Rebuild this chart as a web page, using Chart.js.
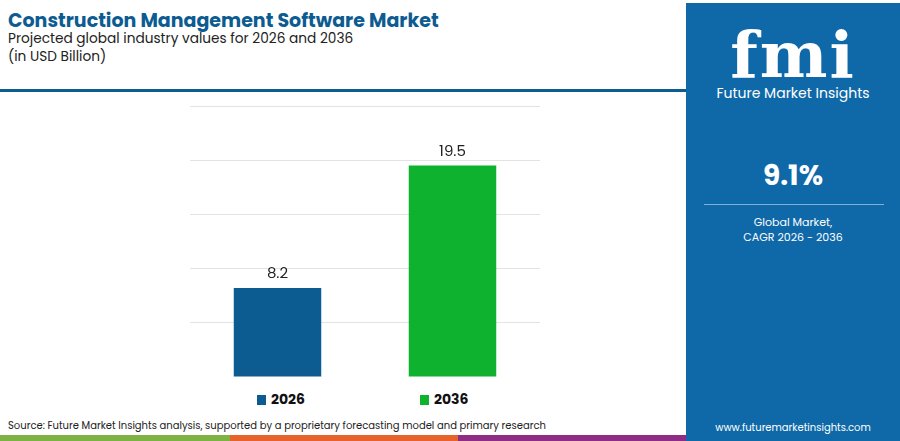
<!DOCTYPE html>
<html>
<head>
<meta charset="utf-8">
<script src="https://cdn.jsdelivr.net/npm/chart.js@4.4.0/dist/chart.umd.min.js"></script>
<style>
  body { margin:0; width:900px; height:441px; position:relative; background:#fff; font-family:Poppins,"Noto Sans",sans-serif; overflow:hidden; }
  #title { position:absolute; left:8px; top:6px; font-size:19px; font-weight:700; color:#0d5c91; }
  #sub { position:absolute; left:8px; top:30px; font-size:13.7px; color:#222; line-height:18px; }
  #rule { position:absolute; left:0; top:89px; width:686px; height:3px; background:#0d5c91; }
  #box { position:absolute; left:190px; top:106px; width:350px; height:271px; }
  #legend { position:absolute; top:389px; left:0; width:686px; font-size:14px; font-weight:700; color:#111; }
  #legend span { position:absolute; }
  #legend i { display:inline-block; width:9px; height:10px; margin-right:5px; vertical-align:-1px; }
  #src { position:absolute; left:8px; top:418px; font-size:10px; color:#222; }
  .strip { position:absolute; top:435px; height:6px; }
  #panel { position:absolute; left:686px; top:3px; width:214px; height:438px; background:#0f69a8; color:#fff; text-align:center; }
  #fmi { position:absolute; left:0; width:214px; top:14px; font-family:"DejaVu Serif",serif; font-size:64px; font-weight:700; letter-spacing:2px; }
  #fmiName { position:absolute; left:0; width:214px; top:80px; font-size:14px; }
  #cagr { position:absolute; left:0; width:214px; top:152px; font-size:28px; font-weight:700; }
  #line { position:absolute; left:18px; width:180px; top:201px; height:1px; background:#7fb0d6; }
  #cap { position:absolute; left:0; width:214px; top:212px; font-size:11px; line-height:15px; }
  #url { position:absolute; left:0; width:214px; top:417px; font-size:10px; }
</style>
</head>
<body>
<div id="title">Construction Management Software Market</div>
<div id="sub">Projected global industry values for 2026 and 2036<br>(in USD Billion)</div>
<div id="rule"></div>
<div id="box"><canvas id="myChart"></canvas></div>
<div id="legend"></div>
<div id="src">Source: Future Market Insights analysis, supported by a proprietary forecasting model and primary research</div>
<div class="strip" style="left:0;width:230px;background:#7cb342"></div>
<div class="strip" style="left:230px;width:228px;background:#e8622c"></div>
<div class="strip" style="left:458px;width:228px;background:#8e2c86"></div>
<div id="panel">
  <div id="fmi">fmi</div>
  <div id="fmiName">Future Market Insights</div>
  <div id="cagr">9.1%</div>
  <div id="line"></div>
  <div id="cap">Global Market,<br>CAGR 2026 - 2036</div>
  <div id="url">www.futuremarketinsights.com</div>
</div>
<script>
const years = ['2026', '2036'];
const values = [8.2, 19.5];
const colors = ['#0d5c91', '#0fb22f'];
const yTicks = [0, 5, 10, 15, 20, 25];

// legend, centred under each bar
const legend = document.getElementById('legend');
const legendX = [257, 420];
years.forEach((y, i) => {
  const s = document.createElement('span');
  s.style.left = legendX[i] + 'px';
  s.innerHTML = '<i style="background:' + colors[i] + '"></i>' + y;
  legend.appendChild(s);
});

// value labels above the bars
const valueLabels = {
  id: 'valueLabels',
  afterDatasetsDraw(chart) {
    const c = chart.ctx;
    c.save();
    c.font = '15px Poppins, "Noto Sans", sans-serif';
    c.fillStyle = '#222';
    c.textAlign = 'center';
    c.textBaseline = 'bottom';
    chart.getDatasetMeta(0).data.forEach((bar, i) => {
      c.fillText(values[i].toFixed(1), bar.x, bar.y - 6);
    });
    c.restore();
  }
};

const ctx = document.getElementById('myChart');
new Chart(ctx, {
  type: 'bar',
  data: {
    labels: years,
    datasets: [{
      data: values,
      backgroundColor: colors,
      barPercentage: 0.5,
      categoryPercentage: 1
    }]
  },
  options: {
    responsive: true,
    maintainAspectRatio: false,
    animation: false,
    layout: { padding: 0 },
    plugins: { legend: { display: false }, tooltip: { enabled: false } },
    scales: {
      x: { display: false },
      y: {
        min: 0, max: 25,
        afterBuildTicks: axis => { axis.ticks = yTicks.map(v => ({ value: v })); },
        ticks: { display: false },
        border: { display: false },
        grid: { color: '#e3e3e3', drawTicks: false }
      }
    }
  },
  plugins: [valueLabels]
});
</script>
</body>
</html>
